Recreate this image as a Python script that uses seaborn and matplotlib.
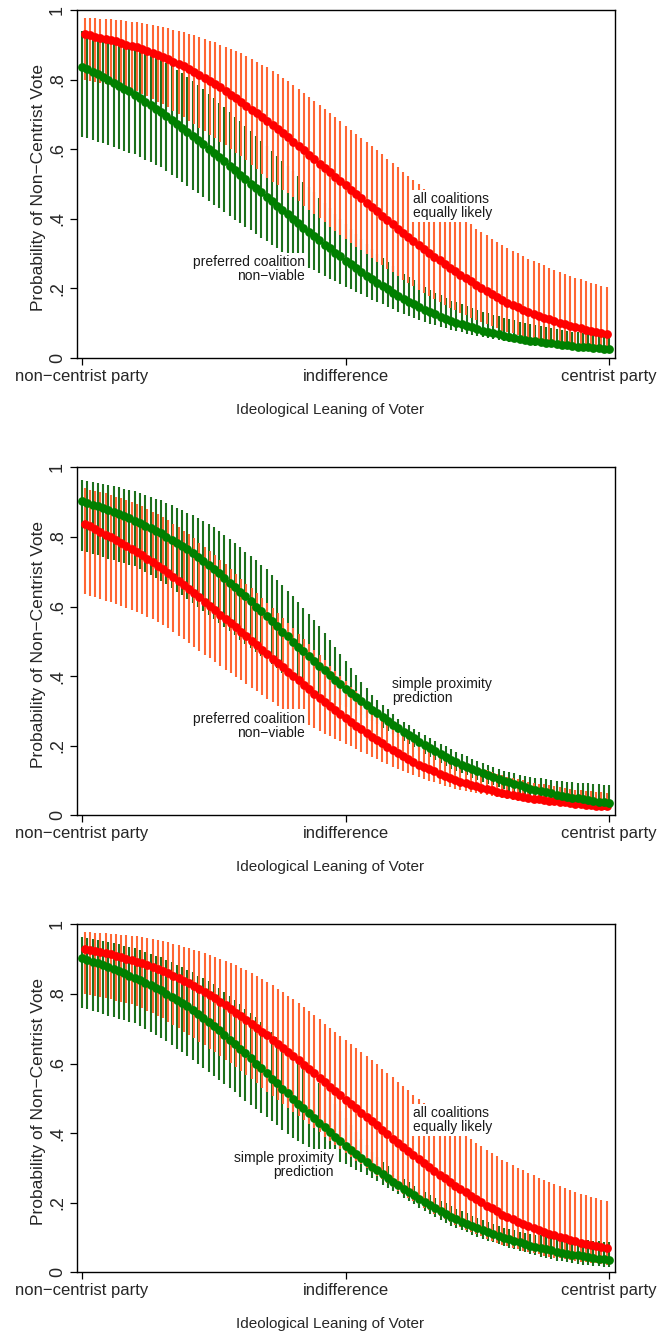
import numpy as np
import pandas as pd
import matplotlib
matplotlib.use("Agg")
import matplotlib.pyplot as plt
import seaborn as sns

# ---------------- data ----------------
leaning = list(range(101))          # ideological position grid (0 = non-centrist party, 100 = centrist party)
tick_pos = [0, 50, 100]
tick_labels = ["non\u2212centrist party", "indifference", "centrist party"]
ytick_pos = [0, 0.2, 0.4, 0.6, 0.8, 1.0]
ytick_labels = ["0", ".2", ".4", ".6", ".8", "1"]

# "all coalitions equally likely"
allcoal_mean = [0.930,0.927,0.924,0.920,0.917, 0.914,0.910,0.906,0.901,0.897, 0.893,0.888,0.882,0.877,0.871,
                0.866,0.859,0.852,0.845,0.838, 0.831,0.822,0.814,0.805,0.797, 0.788,0.778,0.767,0.757,0.746,
                0.736,0.725,0.714,0.703,0.692, 0.681,0.669,0.657,0.646,0.634, 0.622,0.609,0.597,0.584,0.572,
                0.559,0.546,0.534,0.521,0.509, 0.496,0.484,0.471,0.459,0.446, 0.434,0.422,0.409,0.397,0.384,
                0.372,0.360,0.348,0.337,0.325, 0.313,0.302,0.291,0.281,0.270, 0.259,0.249,0.239,0.230,0.220,
                0.210,0.201,0.192,0.184,0.175, 0.166,0.159,0.152,0.146,0.139, 0.132,0.127,0.121,0.116,0.111,
                0.106,0.102,0.098,0.093,0.089, 0.085,0.082,0.079,0.075,0.072, 0.069]
allcoal_hi = [0.978,0.977,0.976,0.975,0.974, 0.973,0.972,0.970,0.969,0.967, 0.966,0.963,0.960,0.958,0.955,
              0.952,0.948,0.944,0.940,0.936, 0.932,0.927,0.922,0.917,0.912, 0.907,0.901,0.895,0.888,0.882,
              0.876,0.868,0.860,0.851,0.843, 0.835,0.825,0.815,0.805,0.795, 0.785,0.773,0.762,0.750,0.739,
              0.727,0.715,0.703,0.692,0.680, 0.668,0.656,0.645,0.633,0.622, 0.610,0.598,0.585,0.573,0.560,
              0.548,0.536,0.524,0.511,0.499, 0.487,0.476,0.464,0.453,0.441, 0.430,0.418,0.407,0.395,0.384,
              0.372,0.362,0.353,0.343,0.334, 0.324,0.316,0.308,0.301,0.293, 0.285,0.279,0.272,0.266,0.259,
              0.253,0.248,0.242,0.237,0.231, 0.226,0.222,0.217,0.213,0.208, 0.204]
allcoal_lo = [0.800,0.797,0.794,0.791,0.788, 0.785,0.781,0.777,0.774,0.770, 0.766,0.759,0.752,0.744,0.737,
              0.730,0.720,0.711,0.701,0.692, 0.682,0.672,0.662,0.652,0.642, 0.632,0.622,0.611,0.601,0.590,
              0.580,0.568,0.555,0.543,0.530, 0.518,0.507,0.496,0.484,0.473, 0.462,0.450,0.438,0.426,0.414,
              0.402,0.390,0.378,0.366,0.354, 0.342,0.331,0.320,0.310,0.299, 0.288,0.277,0.267,0.256,0.246,
              0.235,0.225,0.215,0.206,0.196, 0.186,0.178,0.169,0.161,0.152, 0.144,0.137,0.130,0.123,0.116,
              0.109,0.103,0.097,0.091,0.085, 0.079,0.075,0.071,0.066,0.062, 0.058,0.055,0.052,0.048,0.045,
              0.042,0.040,0.038,0.035,0.033, 0.031,0.029,0.027,0.026,0.024, 0.022]

# "preferred coalition non-viable"
nonviable_mean = [0.837,0.830,0.822,0.815,0.807, 0.800,0.791,0.783,0.774,0.766, 0.757,0.747,0.737,0.727,0.717,
                  0.707,0.696,0.684,0.673,0.661, 0.650,0.638,0.626,0.614,0.602, 0.590,0.577,0.565,0.552,0.540,
                  0.527,0.514,0.501,0.489,0.476, 0.463,0.450,0.438,0.425,0.413, 0.400,0.388,0.375,0.363,0.350,
                  0.338,0.326,0.315,0.303,0.292, 0.280,0.269,0.258,0.248,0.237, 0.226,0.216,0.207,0.197,0.188,
                  0.178,0.170,0.162,0.154,0.146, 0.138,0.132,0.126,0.119,0.113, 0.107,0.102,0.097,0.093,0.088,
                  0.083,0.079,0.075,0.072,0.068, 0.064,0.061,0.058,0.056,0.053, 0.050,0.048,0.046,0.044,0.042,
                  0.040,0.038,0.037,0.035,0.033, 0.032,0.031,0.030,0.028,0.027, 0.026]
nonviable_hi = [0.940,0.936,0.932,0.929,0.925, 0.921,0.916,0.911,0.905,0.900, 0.895,0.888,0.880,0.873,0.865,
                0.858,0.848,0.838,0.828,0.818, 0.808,0.796,0.784,0.772,0.760, 0.748,0.734,0.721,0.707,0.694,
                0.680,0.666,0.652,0.638,0.624, 0.610,0.596,0.581,0.567,0.552, 0.538,0.522,0.507,0.491,0.476,
                0.460,0.445,0.430,0.415,0.400, 0.385,0.370,0.356,0.341,0.327, 0.312,0.300,0.288,0.276,0.264,
                0.252,0.242,0.232,0.223,0.213, 0.203,0.195,0.188,0.180,0.173, 0.165,0.160,0.154,0.149,0.143,
                0.138,0.133,0.129,0.124,0.120, 0.115,0.111,0.108,0.104,0.101, 0.097,0.094,0.091,0.089,0.086,
                0.083,0.081,0.079,0.076,0.074, 0.072,0.070,0.069,0.067,0.066, 0.064]
nonviable_lo = [0.636,0.631,0.626,0.622,0.617, 0.612,0.607,0.601,0.596,0.590, 0.585,0.578,0.570,0.563,0.555,
                0.548,0.537,0.527,0.516,0.506, 0.495,0.484,0.473,0.462,0.451, 0.440,0.430,0.419,0.409,0.398,
                0.388,0.377,0.367,0.356,0.346, 0.335,0.325,0.315,0.306,0.296, 0.286,0.277,0.269,0.260,0.252,
                0.243,0.235,0.228,0.220,0.213, 0.205,0.198,0.190,0.183,0.175, 0.168,0.161,0.154,0.147,0.140,
                0.133,0.127,0.121,0.116,0.110, 0.104,0.099,0.095,0.090,0.085, 0.081,0.077,0.074,0.070,0.067,
                0.063,0.060,0.057,0.055,0.052, 0.049,0.047,0.045,0.042,0.040, 0.038,0.036,0.035,0.033,0.032,
                0.030,0.029,0.027,0.026,0.024, 0.023,0.022,0.021,0.019,0.018, 0.017]

# "simple proximity prediction"
proximity_mean = [0.903,0.898,0.893,0.888,0.883, 0.878,0.872,0.866,0.859,0.853, 0.847,0.840,0.832,0.825,0.817,
                  0.810,0.801,0.792,0.783,0.774, 0.765,0.754,0.742,0.731,0.719, 0.708,0.695,0.682,0.669,0.656,
                  0.643,0.629,0.615,0.600,0.586, 0.572,0.557,0.543,0.528,0.514, 0.499,0.485,0.471,0.458,0.444,
                  0.430,0.417,0.404,0.390,0.377, 0.364,0.352,0.340,0.328,0.316, 0.304,0.293,0.282,0.272,0.261,
                  0.250,0.240,0.231,0.221,0.212, 0.202,0.194,0.185,0.177,0.168, 0.160,0.153,0.146,0.140,0.133,
                  0.126,0.121,0.115,0.110,0.104, 0.099,0.095,0.090,0.086,0.081, 0.077,0.073,0.070,0.066,0.063,
                  0.059,0.056,0.054,0.051,0.049, 0.046,0.044,0.042,0.039,0.037, 0.035]
proximity_hi = [0.963,0.960,0.958,0.955,0.953, 0.950,0.946,0.943,0.939,0.936, 0.932,0.927,0.921,0.916,0.910,
                0.905,0.898,0.891,0.884,0.877, 0.870,0.862,0.853,0.845,0.836, 0.828,0.817,0.805,0.794,0.782,
                0.771,0.758,0.745,0.733,0.720, 0.707,0.692,0.676,0.661,0.645, 0.630,0.613,0.596,0.579,0.562,
                0.545,0.525,0.504,0.484,0.463, 0.443,0.423,0.404,0.384,0.365, 0.345,0.332,0.318,0.305,0.291,
                0.278,0.268,0.259,0.249,0.240, 0.230,0.222,0.214,0.206,0.198, 0.190,0.183,0.176,0.170,0.163,
                0.156,0.150,0.145,0.139,0.134, 0.128,0.124,0.121,0.117,0.114, 0.110,0.108,0.106,0.104,0.102,
                0.100,0.099,0.097,0.096,0.094, 0.093,0.092,0.091,0.089,0.088, 0.087]
proximity_lo = [0.760,0.756,0.751,0.747,0.742, 0.738,0.734,0.729,0.725,0.720, 0.716,0.708,0.699,0.691,0.682,
                0.674,0.664,0.653,0.643,0.632, 0.622,0.610,0.599,0.587,0.576, 0.564,0.552,0.540,0.529,0.517,
                0.505,0.493,0.481,0.470,0.458, 0.446,0.434,0.422,0.409,0.397, 0.385,0.377,0.369,0.361,0.353,
                0.345,0.338,0.331,0.324,0.317, 0.310,0.302,0.294,0.287,0.279, 0.271,0.262,0.252,0.243,0.233,
                0.224,0.215,0.205,0.196,0.186, 0.177,0.168,0.160,0.151,0.143, 0.134,0.128,0.121,0.115,0.108,
                0.102,0.097,0.091,0.086,0.081, 0.076,0.071,0.067,0.062,0.058, 0.053,0.049,0.045,0.042,0.038,
                0.034,0.032,0.029,0.027,0.024, 0.022,0.020,0.019,0.017,0.016, 0.014]

series = {
    "allcoal": (allcoal_mean, allcoal_lo, allcoal_hi),
    "nonviable": (nonviable_mean, nonviable_lo, nonviable_hi),
    "proximity": (proximity_mean, proximity_lo, proximity_hi),
}
label_text = {
    "allcoal": "all coalitions\nequally likely",
    "nonviable": "preferred coalition\nnon\u2212viable",
    "proximity": "simple proximity\nprediction",
}

# panel: (red series, green series, [(series, x, y, ha), ...])
panels = [
    ("allcoal", "nonviable", [("allcoal", 62.7, 0.438, "left"), ("nonviable", 42.3, 0.257, "right")]),
    ("nonviable", "proximity", [("proximity", 58.8, 0.358, "left"), ("nonviable", 42.3, 0.258, "right")]),
    ("allcoal", "proximity", [("allcoal", 62.7, 0.437, "left"), ("proximity", 47.7, 0.308, "right")]),
]

# ---------------- style ----------------
sns.set_style("white")
plt.rcParams["font.family"] = ["Liberation Sans", "DejaVu Sans"]
plt.rcParams["axes.unicode_minus"] = True

RED = "#ff0000"
ORANGE = "#ff6633"
GREEN = "#008000"
DKGREEN = "#1c701c"

fig = plt.figure(figsize=(6.6, 13.41), dpi=100)
bottoms = [0.7330, 0.3920, 0.0512]

x_green = np.array(leaning, dtype=float)
x_red = 0.5 + 0.99 * np.array(leaning, dtype=float)

for (red_key, green_key, labels), b in zip(panels, bottoms):
    ax = fig.add_axes([0.1167, b, 0.8152, 0.2595])
    rm, rl, rh = series[red_key]
    gm, gl, gh = series[green_key]
    df_r = pd.DataFrame({"x": x_red, "m": rm, "lo": rl, "hi": rh})
    df_g = pd.DataFrame({"x": x_green, "m": gm, "lo": gl, "hi": gh})

    ax.vlines(df_g["x"], df_g["lo"], df_g["hi"], color=DKGREEN, lw=1.5, zorder=2)
    ax.vlines(df_r["x"], df_r["lo"], df_r["hi"], color=ORANGE, lw=1.5, zorder=2.1)
    sns.scatterplot(data=df_r, x="x", y="m", color=RED, s=40, linewidth=0,
                    legend=False, ax=ax, zorder=3)
    sns.scatterplot(data=df_g, x="x", y="m", color=GREEN, s=40, linewidth=0,
                    legend=False, ax=ax, zorder=3.1)

    for key, tx, ty, ha in labels:
        ax.text(tx, ty, label_text[key], ha=ha, va="center", multialignment=ha,
                fontsize=10, color="#1a1a1a", linespacing=1.0, zorder=5,
                bbox=dict(facecolor="white", edgecolor="none", pad=1.5))

    ax.set_xlim(-0.95, 101.1)
    ax.set_ylim(0, 1)
    ax.set_xticks(tick_pos)
    ax.set_xticklabels(tick_labels, fontsize=12)
    ax.set_yticks(ytick_pos)
    ax.set_yticklabels(ytick_labels, fontsize=13, rotation=90, va="center")
    ax.tick_params(axis="both", direction="out", length=5, width=0.9, color="black",
                   pad=3, left=True, bottom=True)
    for sp in ax.spines.values():
        sp.set_visible(True)
        sp.set_color("black")
        sp.set_linewidth(1.0)
    ax.set_xlabel("Ideological Leaning of Voter", fontsize=11)
    ax.xaxis.set_label_coords(0.47, -0.149)
    ax.xaxis.label.set_va("center")
    ax.set_ylabel("Probability of Non\u2212Centrist Vote", fontsize=12.5)
    ax.yaxis.set_label_coords(-0.0716, 0.49)
    ax.yaxis.label.set_va("center")
    ax.set_facecolor("white")

fig.savefig("out.png", dpi=100, facecolor="white")
